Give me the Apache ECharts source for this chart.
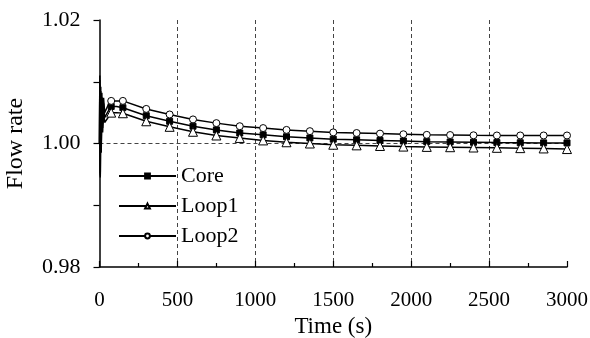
<!DOCTYPE html>
<html>
<head>
<meta charset="utf-8">
<script src="https://cdn.jsdelivr.net/npm/echarts@6/dist/echarts.min.js"></script>
<style>html,body{margin:0;padding:0;background:#fff;}#c{width:590px;height:338px;}</style>
</head>
<body>
<div id="c"></div>
<script>
var time = [0, 2, 5, 8, 11, 15, 20, 26, 33, 42, 55, 75, 110, 150, 300, 450, 600, 750, 900, 1050, 1200, 1350, 1500, 1650, 1800, 1950, 2100, 2250, 2400, 2550, 2700, 2850, 3000];
var core = [1.0000, 1.0103, 0.9948, 1.0085, 0.9990, 1.0075, 1.0025, 1.0065, 1.0042, 1.0043, 1.0052, 1.0060, 1.0060, 1.0058, 1.0045, 1.0036, 1.0028, 1.0022, 1.0017, 1.0014, 1.0011, 1.0009, 1.0007, 1.0006, 1.0005, 1.0004, 1.0003, 1.00025, 1.0002, 1.00015, 1.00012, 1.0001, 1.0001];
var loop1 = [1.0000, 1.0095, 0.9945, 1.0078, 0.9985, 1.0068, 1.0018, 1.0056, 1.0034, 1.0034, 1.0042, 1.0050, 1.0050, 1.0049, 1.0036, 1.0027, 1.0019, 1.0013, 1.0009, 1.0005, 1.0002, 1.0000, 0.9998, 0.9997, 0.9996, 0.9995, 0.99945, 0.9994, 0.99935, 0.9993, 0.99925, 0.9992, 0.9991];
var loop2 = [1.0000, 1.0110, 0.9952, 1.0092, 0.9996, 1.0082, 1.0032, 1.0074, 1.0050, 1.0052, 1.0062, 1.0069, 1.0069, 1.0069, 1.0056, 1.0047, 1.0039, 1.0033, 1.0028, 1.0025, 1.0022, 1.0020, 1.0018, 1.0017, 1.0016, 1.0015, 1.0014, 1.00137, 1.00133, 1.0013, 1.0013, 1.0013, 1.0013];
var seriesNames = ['Core', 'Loop1', 'Loop2'];
var xTicks = [0, 500, 1000, 1500, 2000, 2500, 3000];
var yTicks = [0.98, 1.00, 1.02];

var font = '"Liberation Serif", "Times New Roman", serif';
function build(vals) {
  return time.map(function (t, i) {
    var show = t >= 75 && t % 75 === 0;
    return show ? [t, vals[i]] : { value: [t, vals[i]], symbol: 'none' };
  });
}
var chart = echarts.init(document.getElementById('c'), null, { renderer: 'canvas' });
var dashColor = '#444';
chart.setOption({
  animation: false,
  backgroundColor: '#fff',
  textStyle: { fontFamily: font, color: '#000' },
  grid: { left: 99.5, right: 23, top: 20, bottom: 71, containLabel: false, outerBoundsMode: 'none' },
  legend: {
    orient: 'vertical', left: 113, top: 160, itemWidth: 57, itemHeight: 6, itemGap: 8,
    textStyle: { fontFamily: font, fontSize: 22, color: '#000', lineHeight: 22 },
    data: seriesNames
  },
  xAxis: {
    type: 'value', min: xTicks[0], max: xTicks[xTicks.length - 1], interval: 500,
    name: 'Time (s)', nameLocation: 'middle', nameGap: 41,
    nameTextStyle: { fontFamily: font, fontSize: 23, color: '#000' },
    axisLine: { show: true, onZero: false, lineStyle: { color: '#000', width: 1.5 } },
    axisTick: { show: true, inside: true, length: 6, lineStyle: { color: '#000', width: 1.2 } },
    minorTick: { show: true, splitNumber: 2, length: 4, lineStyle: { color: '#000', width: 1.2 } },
    axisLabel: { fontFamily: font, fontSize: 21, color: '#000', margin: 23, formatter: function (v) { return String(v); } },
    splitLine: { show: true, lineStyle: { type: [4, 3], width: 1, color: ['transparent', dashColor, dashColor, dashColor, dashColor, dashColor, 'transparent'] } }
  },
  yAxis: {
    type: 'value', min: yTicks[0], max: yTicks[yTicks.length - 1], interval: 0.02,
    name: 'Flow rate', nameLocation: 'middle', nameGap: 72,
    nameTextStyle: { fontFamily: font, fontSize: 24, color: '#000' },
    axisLine: { show: true, onZero: false, lineStyle: { color: '#000', width: 1.5 } },
    axisTick: { show: true, inside: false, length: 6, lineStyle: { color: '#000', width: 1.2 } },
    minorTick: { show: true, splitNumber: 2, length: 6, lineStyle: { color: '#000', width: 1.2 } },
    axisLabel: { fontFamily: font, fontSize: 22, color: '#000', margin: 19, formatter: function (v) { return v.toFixed(2); } },
    splitLine: { show: true, lineStyle: { type: [4, 3], width: 1, color: ['transparent', dashColor, 'transparent'] } }
  },
  series: [
    { name: seriesNames[0], type: 'line', data: build(core), symbol: 'rect', symbolSize: 6,
      lineStyle: { color: '#000', width: 1.5 }, itemStyle: { color: '#000', borderColor: '#000', borderWidth: 1 }, z: 3 },
    { name: seriesNames[1], type: 'line', data: build(loop1), symbol: 'triangle', symbolSize: 9,
      lineStyle: { color: '#000', width: 1.5 }, itemStyle: { color: '#fff', borderColor: '#000', borderWidth: 1 }, z: 3 },
    { name: seriesNames[2], type: 'line', data: build(loop2), symbol: 'circle', symbolSize: 7,
      lineStyle: { color: '#000', width: 1.5 }, itemStyle: { color: '#fff', borderColor: '#000', borderWidth: 1 }, z: 3 }
  ]
});
</script>
</body>
</html>
